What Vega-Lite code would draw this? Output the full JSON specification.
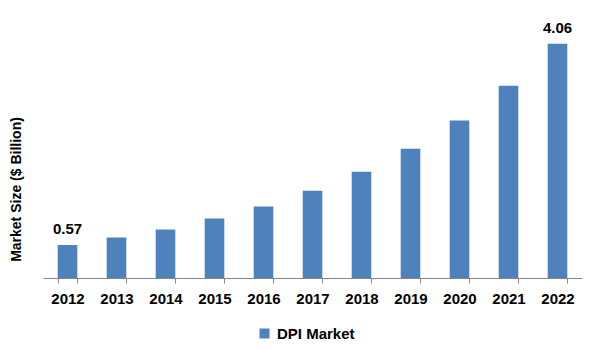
{
  "$schema": "https://vega.github.io/schema/vega-lite/v6.json",
  "width": 539,
  "height": 258,
  "autosize": "none",
  "padding": {"left": 43, "top": 20, "right": 18, "bottom": 82},
  "background": "white",
  "config": {"view": {"stroke": null}, "font": "Liberation Sans"},
  "data": {"values": [
    {"year": "2012", "value": 0.57, "series": "DPI Market", "label": "0.57"},
    {"year": "2013", "value": 0.70, "series": "DPI Market", "label": ""},
    {"year": "2014", "value": 0.84, "series": "DPI Market", "label": ""},
    {"year": "2015", "value": 1.03, "series": "DPI Market", "label": ""},
    {"year": "2016", "value": 1.24, "series": "DPI Market", "label": ""},
    {"year": "2017", "value": 1.51, "series": "DPI Market", "label": ""},
    {"year": "2018", "value": 1.84, "series": "DPI Market", "label": ""},
    {"year": "2019", "value": 2.24, "series": "DPI Market", "label": ""},
    {"year": "2020", "value": 2.73, "series": "DPI Market", "label": ""},
    {"year": "2021", "value": 3.33, "series": "DPI Market", "label": ""},
    {"year": "2022", "value": 4.06, "series": "DPI Market", "label": "4.06"}
  ]},
  "encoding": {
    "x": {
      "field": "year", "type": "ordinal",
      "scale": {"paddingInner": 0.6, "paddingOuter": 0.3},
      "axis": {
        "title": null, "labelAngle": 0, "labelFont": "Liberation Sans", "labelFontSize": 15,
        "labelFontWeight": "bold", "labelColor": "#000000", "labelPadding": 8,
        "domainColor": "#868686", "tickColor": "#868686", "tickSize": 5,
        "tickBand": "extent"
      }
    },
    "y": {
      "field": "value", "type": "quantitative",
      "scale": {"domain": [0, 4.47], "nice": false},
      "axis": {
        "title": "Market Size ($ Billion)", "domain": false, "ticks": false, "labels": false, "grid": false,
        "titleFont": "Liberation Sans", "titleFontSize": 14, "titleFontWeight": "bold", "titleColor": "#000000",
        "titleX": -27, "titleY": 169, "titleAngle": -90, "titleAlign": "center", "titleBaseline": "middle"
      }
    }
  },
  "layer": [
    {
      "mark": {"type": "bar"},
      "encoding": {
        "color": {
          "field": "series", "type": "nominal",
          "scale": {"range": ["#4F81BD"]},
          "legend": {
            "title": null, "orient": "none", "legendX": 214, "legendY": 306,
            "symbolType": "square", "symbolSize": 100, "symbolStrokeWidth": 0,
            "labelFont": "Liberation Sans", "labelFontSize": 15, "labelFontWeight": "bold",
            "labelColor": "#000000", "labelOffset": 5
          }
        }
      }
    },
    {
      "mark": {"type": "text", "dy": -16, "font": "Liberation Sans", "fontSize": 15, "fontWeight": "bold", "color": "#000000"},
      "encoding": {"text": {"field": "label"}}
    }
  ]
}
